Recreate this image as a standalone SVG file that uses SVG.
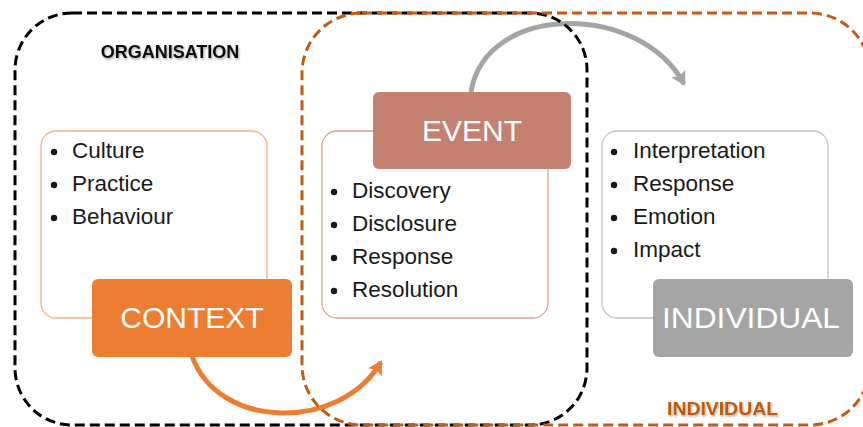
<svg xmlns="http://www.w3.org/2000/svg" width="863" height="427" viewBox="0 0 863 427">
<defs>
<style>
.cont{fill:none;stroke-width:3;stroke-dasharray:10 5}
.list{fill:#fff;stroke-width:1.3}
.item{font-family:"Liberation Sans",Arial,sans-serif;font-size:22.5px;fill:#1a1a1a}
.head{font-family:"Liberation Sans",Arial,sans-serif;font-size:30px;fill:#fff;text-anchor:middle}
.lab{font-family:"Liberation Sans",Arial,sans-serif;font-size:18px;font-weight:bold}
.dot{fill:#1a1a1a}
</style>
<filter id="sh" x="-10%" y="-30%" width="120%" height="160%">
<feDropShadow dx="1" dy="1.5" stdDeviation="1" flood-color="#000" flood-opacity="0.35"/>
</filter>
<marker id="ahO" markerUnits="userSpaceOnUse" markerWidth="20" markerHeight="20" refX="12" refY="8" orient="auto">
<path d="M0,0 L14,8 L0,16 L3,8 Z" fill="#ED7D31"/>
</marker>
<marker id="ahG" markerUnits="userSpaceOnUse" markerWidth="20" markerHeight="20" refX="12" refY="8" orient="auto">
<path d="M0,0 L14,8 L0,16 L3,8 Z" fill="#A5A5A5"/>
</marker>
</defs>
<rect width="863" height="427" fill="#fff"/>

<g id="connectors">
<path d="M192,356 C218,430 340,432 381,362" fill="none" stroke="#ED7D31" stroke-width="5" marker-end="url(#ahO)"/>
<path d="M471,92 C486,2 640,2 684,84" fill="none" stroke="#A5A5A5" stroke-width="5" marker-end="url(#ahG)"/>
</g>

<g id="organisation">
<rect class="cont" x="15" y="13" width="572" height="412" rx="57" ry="57" stroke="#000"/>
<text class="lab" x="170" y="58" text-anchor="middle" fill="#111" filter="url(#sh)">ORGANISATION</text>
</g>
<g id="individual-area">
<rect class="cont" x="302" y="13" width="568" height="412" rx="60" ry="60" stroke="#C55A11"/>
<text class="lab" x="667" y="415" fill="#C55A11" textLength="111" lengthAdjust="spacingAndGlyphs" filter="url(#sh)">INDIVIDUAL</text>
</g>

<g id="context">
<rect class="list" x="41" y="131" width="226" height="187" rx="15" stroke="#F4B183"/>
<circle class="dot" cx="54" cy="152" r="3.2"/>
<text class="item" x="72" y="158">Culture</text>
<circle class="dot" cx="54" cy="185" r="3.2"/>
<text class="item" x="72" y="191">Practice</text>
<circle class="dot" cx="54" cy="218" r="3.2"/>
<text class="item" x="72" y="224">Behaviour</text>
<rect x="92" y="279" width="200" height="78" rx="6" fill="#ED7D31"/>
<text class="head" x="192" y="328">CONTEXT</text>
</g>

<g id="event">
<rect class="list" x="322" y="131" width="226" height="187" rx="15" stroke="#D9A293"/>
<circle class="dot" cx="334" cy="192" r="3.2"/>
<text class="item" x="352" y="198">Discovery</text>
<circle class="dot" cx="334" cy="225" r="3.2"/>
<text class="item" x="352" y="231">Disclosure</text>
<circle class="dot" cx="334" cy="258" r="3.2"/>
<text class="item" x="352" y="264">Response</text>
<circle class="dot" cx="334" cy="291" r="3.2"/>
<text class="item" x="352" y="297">Resolution</text>
<rect x="373" y="92" width="198" height="77" rx="6" fill="#C48071"/>
<text class="head" x="472" y="141">EVENT</text>
</g>

<g id="individual">
<rect class="list" x="602" y="131" width="226" height="187" rx="15" stroke="#C4C4C4"/>
<circle class="dot" cx="614" cy="152" r="3.2"/>
<text class="item" x="633" y="158">Interpretation</text>
<circle class="dot" cx="614" cy="185" r="3.2"/>
<text class="item" x="633" y="191">Response</text>
<circle class="dot" cx="614" cy="218" r="3.2"/>
<text class="item" x="633" y="224">Emotion</text>
<circle class="dot" cx="614" cy="251" r="3.2"/>
<text class="item" x="633" y="257">Impact</text>
<rect x="653" y="279" width="200" height="78" rx="6" fill="#A5A5A5"/>
<text class="head" x="751" y="328" textLength="178" lengthAdjust="spacingAndGlyphs">INDIVIDUAL</text>
</g>
</svg>
